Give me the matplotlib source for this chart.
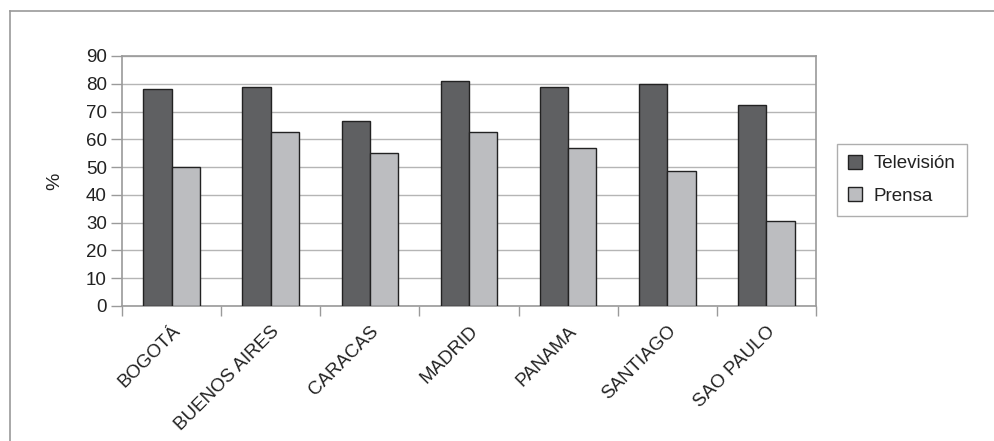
import matplotlib.pyplot as plt
import numpy as np

plt.rcParams['font.family'] = ['Liberation Sans', 'DejaVu Sans']

cities = ['BOGOTÁ', 'BUENOS AIRES', 'CARACAS', 'MADRID', 'PANAMA', 'SANTIAGO', 'SAO PAULO']
television = [78.1, 78.7, 66.6, 81.1, 78.7, 79.9, 72.4]
prensa = [49.9, 62.6, 55.1, 62.5, 56.9, 48.7, 30.5]

fig = plt.figure(figsize=(9.95, 4.41), dpi=100)

# outer frame (only top and left visible in the reference)
frame = fig.add_axes([10 / 995, 0, 1 - 10 / 995, 1 - 11 / 441])
frame.set_xticks([])
frame.set_yticks([])
frame.patch.set_alpha(0)
for side in ['right', 'bottom']:
    frame.spines[side].set_visible(False)
for side in ['top', 'left']:
    frame.spines[side].set_color('#9a9a9a')
    frame.spines[side].set_linewidth(1.2)

ax = fig.add_axes([122 / 995, 1 - 306 / 441, (816 - 122) / 995, (306 - 56) / 441])

x = np.arange(len(cities))
w = 0.285
ax.bar(x - w / 2, television, w, color='#5f6062', edgecolor='#222222', linewidth=1, label='Televisión', zorder=3)
ax.bar(x + w / 2, prensa, w, color='#bcbdc0', edgecolor='#222222', linewidth=1, label='Prensa', zorder=3)

ax.set_xlim(-0.5, len(cities) - 0.5)
ax.set_ylim(0, 90)
ax.set_yticks(range(0, 91, 10))
ax.tick_params(axis='y', labelsize=13.5, length=8, color='#9a9a9a', width=1, pad=3, labelcolor='#222222')
ax.yaxis.grid(True, color='#b5b5b5', linewidth=1, zorder=0)

ax.set_xticks(np.arange(-0.5, len(cities), 1.0))
ax.set_xticklabels([])
ax.set_xticks(x, minor=True)
ax.set_xticklabels(cities, minor=True, rotation=45, ha='right', rotation_mode='anchor', fontsize=13.5,
                   color='#222222')
ax.tick_params(axis='x', which='major', length=7, color='#9a9a9a', width=1)
ax.tick_params(axis='x', which='minor', length=0, pad=12)

for side in ax.spines:
    ax.spines[side].set_color('#9a9a9a')
    ax.spines[side].set_linewidth(1.2)

ax.set_ylabel('%', fontsize=14, labelpad=16, color='#222222')

leg = ax.legend(loc='center left', bbox_to_anchor=(1.03, 0.505), fontsize=13.5, frameon=True,
                fancybox=False, edgecolor='#9a9a9a', handlelength=0.75, handleheight=0.75,
                borderpad=0.6, labelspacing=0.8, handletextpad=0.6, borderaxespad=0)
leg.get_frame().set_linewidth(1)
for t in leg.get_texts():
    t.set_color('#222222')

fig.savefig('out.png', dpi=100)
